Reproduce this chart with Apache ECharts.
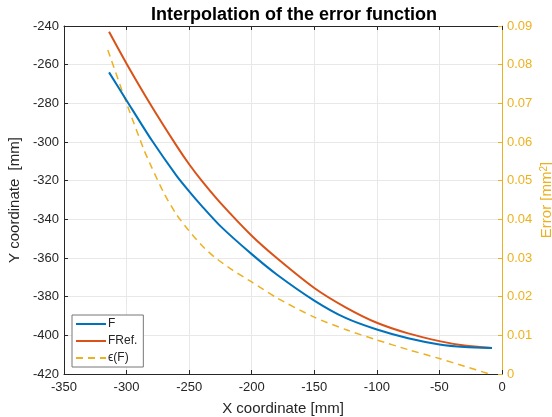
<!DOCTYPE html>
<html>
<head>
<meta charset="utf-8">
<script src="https://cdn.jsdelivr.net/npm/echarts@6/dist/echarts.min.js"></script>
<style>
  html, body { margin: 0; padding: 0; background: #fff; }
  #chart { width: 552px; height: 417px; }
</style>
</head>
<body>
<div id="chart"></div>
<script>
// values
const xF = [-314, -300, -280, -260, -250, -240, -225, -200, -180, -150, -125, -100, -75, -50, -30, -8];
const yF = [-264, -278.5, -299, -317.5, -325.5, -333, -343.5, -358, -368.5, -382, -391, -397, -401.5, -404.7, -406, -406.5];
const yRef = [-243, -259.5, -281.5, -302, -311.5, -320, -331.5, -348.5, -360, -375.5, -385.5, -393.5, -399, -403, -405.3, -406.5];
const xErr = [-315, -300, -286, -280, -270, -260, -250, -240, -230, -215, -200, -180, -150, -125, -100, -75, -50, -30, -10];
const yErr = [0.0838, 0.0700, 0.0579, 0.0535, 0.0467, 0.0412, 0.0370, 0.0333, 0.0303, 0.0268, 0.0238, 0.0197, 0.0147, 0.0115, 0.0088, 0.0063, 0.0040, 0.0020, 0.0];

const seriesNames = ['F', 'FRef.', 'ϵ(F)'];
const xRange = [-350, 0, 50];
const yRange = [-420, -240, 20];
const errRange = [0, 0.09, 0.01];

const pairs = (xs, ys) => xs.map((x, i) => [x, ys[i]]);

const axisColor = '#262626';
const errColor = '#EDB120';
const font = 'Helvetica, Arial, "Liberation Sans", sans-serif';

const chart = echarts.init(document.getElementById('chart'));
chart.setOption({
    backgroundColor: '#fff',
    animation: false,
    textStyle: { fontFamily: font },
    title: {
        text: 'Interpolation of the error function',
        left: 146,
        top: 1,
        textStyle: { fontSize: 18, fontWeight: 'bold', color: '#000', fontFamily: font }
    },
    grid: { left: 64, right: 50, top: 26, bottom: 43, outerBoundsMode: 'none' },
    legend: {
        orient: 'vertical',
        left: 72,
        top: 315,
        data: seriesNames,
        itemWidth: 30,
        itemHeight: 10,
        itemGap: 5,
        padding: [3, 6, 3, 3],
        backgroundColor: '#fff',
        borderColor: '#777',
        borderWidth: 1,
        itemStyle: { opacity: 0 },
        textStyle: { fontSize: 12, color: axisColor, padding: [0, 0, 0, -3] }
    },
    xAxis: [
        {
            type: 'value',
            min: xRange[0], max: xRange[1], interval: xRange[2],
            name: 'X coordinate [mm]',
            nameLocation: 'middle',
            nameGap: 27,
            nameTextStyle: { fontSize: 15, color: axisColor },
            axisLine: { show: true, onZero: false, lineStyle: { color: axisColor } },
            axisTick: { inside: true, length: 4, lineStyle: { color: axisColor } },
            axisLabel: { fontSize: 13, color: axisColor, margin: 7 },
            splitLine: { show: true, lineStyle: { color: '#e8e8e8' } }
        },
        {
            type: 'value',
            position: 'top',
            min: xRange[0], max: xRange[1], interval: xRange[2],
            axisLine: { show: true, onZero: false, lineStyle: { color: axisColor } },
            axisTick: { inside: true, length: 4, lineStyle: { color: axisColor } },
            axisLabel: { show: false },
            splitLine: { show: false }
        }
    ],
    yAxis: [
        {
            type: 'value',
            min: yRange[0], max: yRange[1], interval: yRange[2],
            name: 'Y coordinate  [mm]',
            nameLocation: 'middle',
            nameRotate: 90,
            nameGap: 42,
            nameTextStyle: { fontSize: 15, color: axisColor },
            axisLine: { show: true, onZero: false, lineStyle: { color: axisColor } },
            axisTick: { inside: true, length: 4, lineStyle: { color: axisColor } },
            axisLabel: { fontSize: 13, color: axisColor, margin: 5 },
            splitLine: { show: true, lineStyle: { color: '#e8e8e8' } }
        },
        {
            type: 'value',
            position: 'right',
            min: errRange[0], max: errRange[1], interval: errRange[2],
            name: '{a|Error [mm}{s|2}{a|]}',
            nameLocation: 'middle',
            nameRotate: 90,
            nameGap: 37,
            nameMoveOverlap: false,
            nameTextStyle: {
                rich: {
                    a: { fontSize: 15, color: errColor, fontFamily: font },
                    s: { fontSize: 10, color: errColor, fontFamily: font, verticalAlign: 'top', padding: [0, 0, 6, 0] }
                }
            },
            axisLine: { show: true, onZero: false, lineStyle: { color: errColor } },
            axisTick: { inside: true, length: 4, lineStyle: { color: errColor } },
            axisLabel: {
                fontSize: 13, color: errColor, margin: 5,
                formatter: v => String(Math.round(v * 100) / 100)
            },
            splitLine: { show: false }
        }
    ],
    series: [
        {
            name: seriesNames[0],
            type: 'line',
            data: pairs(xF, yF),
            symbol: 'none',
            smooth: 0.25,
            lineStyle: { color: '#0072BD', width: 2 },
            itemStyle: { color: '#0072BD' },
            z: 3
        },
        {
            name: seriesNames[1],
            type: 'line',
            data: pairs(xF, yRef),
            symbol: 'none',
            smooth: 0.25,
            lineStyle: { color: '#D95319', width: 2 },
            itemStyle: { color: '#D95319' },
            z: 2
        },
        {
            name: seriesNames[2],
            type: 'line',
            yAxisIndex: 1,
            data: pairs(xErr, yErr),
            symbol: 'none',
            smooth: 0.25,
            lineStyle: { color: errColor, width: 1.5, type: [7, 5] },
            itemStyle: { color: errColor },
            z: 1
        }
    ]
});
</script>
</body>
</html>
